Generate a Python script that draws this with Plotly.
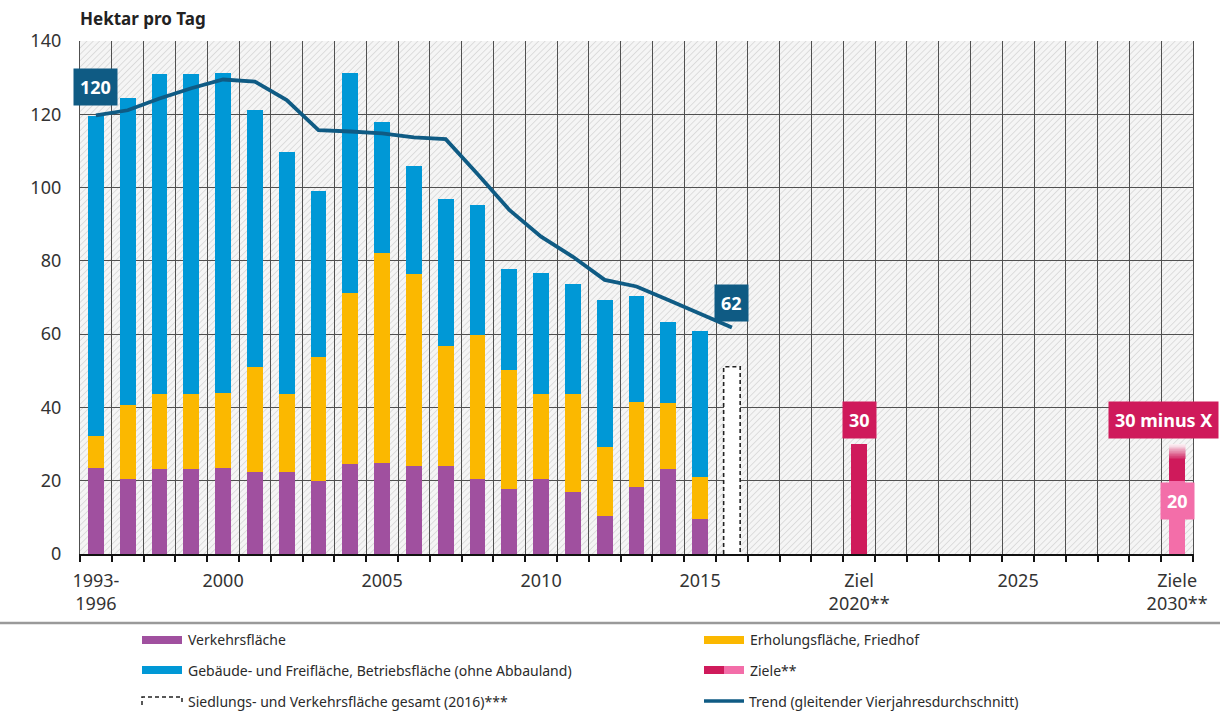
import base64
import plotly.graph_objects as go

# ---------------- data ----------------
categories = ["1993-1996"] + [str(y) for y in range(1997, 2016)]
cat_years = [1996] + list(range(1997, 2016))          # position key (1993-96 sits at 1996 slot)
verkehr = [23.4, 20.5, 23.1, 23.1, 23.4, 22.3, 22.3, 20.0, 24.5, 24.9,
           24.0, 24.0, 20.4, 17.7, 20.4, 16.8, 10.5, 18.2, 23.2, 9.5]
erholung = [8.8, 20.3, 20.7, 20.7, 20.6, 28.8, 21.3, 33.8, 46.6, 57.3,
            52.3, 32.7, 39.5, 32.5, 23.2, 27.0, 18.8, 23.3, 17.9, 11.6]
gebaeude = [87.4, 83.7, 87.1, 87.1, 87.4, 70.2, 66.1, 45.2, 60.3, 35.8,
            29.6, 40.1, 35.3, 27.7, 33.1, 29.8, 40.0, 29.0, 22.1, 39.8]
trend_years = [1996] + list(range(1997, 2017))
trend = [119.7, 121.1, 124.3, 127.1, 129.5, 128.9, 123.9, 115.7, 115.3, 114.8,
         113.7, 113.2, 103.7, 93.9, 86.6, 81.1, 74.8, 73.0, 69.3, 65.5, 61.8]
gesamt_year, gesamt_2016 = 2016, 51.1
ziel_2020_year, ziel_2020 = 2020, 30
ziel_2030_year, ziel_2030_low, ziel_2030_high = 2030, 20, 30
tick_years = [1996, 2000, 2005, 2010, 2015, 2020, 2025, 2030]
tick_labels = ["1993-<br>1996", "2000", "2005", "2010", "2015",
               "Ziel<br>2020**", "2025", "Ziele<br>2030**"]

BASE = 1996
def pos(y):
    return y - BASE

# ---------------- style ----------------
C_PURPLE = "#a0509f"
C_YELLOW = "#fbb800"
C_BLUE = "#0098d6"
C_TREND = "#0f5b84"
C_DPINK = "#cf1a5b"
C_LPINK = "#f36ea9"
FONT = "Noto Sans"
TXT = "#333333"

W, H = 1220, 711
ML, MR, MT, MB = 80, 27, 41, 157
PW, PH = W - ML - MR, H - MT - MB

def px(xp):
    return (xp - ML) / PW

def py(yp):
    return (H - MB - yp) / PH

xs = [pos(y) for y in cat_years]
BW = 0.5

fig = go.Figure()
fig.add_trace(go.Bar(x=xs, y=verkehr, width=BW, marker=dict(color=C_PURPLE, line_width=0), name="Verkehrsfläche"))
fig.add_trace(go.Bar(x=xs, y=erholung, width=BW, marker=dict(color=C_YELLOW, line_width=0), name="Erholungsfläche, Friedhof"))
fig.add_trace(go.Bar(x=xs, y=gebaeude, width=BW, marker=dict(color=C_BLUE, line_width=0), name="Gebäude- und Freifläche"))

# 2016 total (white bar with dashed outline)
gx = pos(gesamt_year)
gw = 0.52
fig.add_trace(go.Bar(x=[gx], y=[gesamt_2016], width=gw, marker=dict(color="white", line_width=0)))
fig.add_trace(go.Scatter(x=[gx - gw / 2, gx - gw / 2, gx + gw / 2, gx + gw / 2],
                         y=[0, gesamt_2016, gesamt_2016, 0], mode="lines",
                         line=dict(color="#222222", width=1.6, dash="4px,3px")))

# targets
fig.add_trace(go.Bar(x=[pos(ziel_2020_year)], y=[ziel_2020], width=BW, marker=dict(color=C_DPINK, line_width=0)))
z30 = pos(ziel_2030_year)
fig.add_trace(go.Bar(x=[z30], y=[ziel_2030_low], width=BW, marker=dict(color=C_LPINK, line_width=0)))
solid_part = (ziel_2030_high - ziel_2030_low) * 0.6
fig.add_trace(go.Bar(x=[z30], y=[solid_part], width=BW, marker=dict(color=C_DPINK, line_width=0)))
nfade = 12
fade_h = (ziel_2030_high - ziel_2030_low - solid_part) / nfade
for i in range(nfade):
    a = 1 - (i + 1) / (nfade + 1)
    # blend toward white instead of transparency to avoid seams
    r0, g0, b0 = 0xcf, 0x1a, 0x5b
    col = f"rgb({int(r0 * a + 255 * (1 - a))},{int(g0 * a + 255 * (1 - a))},{int(b0 * a + 255 * (1 - a))})"
    fig.add_trace(go.Bar(x=[z30], y=[fade_h], width=BW,
                         marker=dict(color=col, line=dict(color=col, width=0.5))))

# trend
fig.add_trace(go.Scatter(x=[pos(y) for y in trend_years], y=trend, mode="lines",
                         line=dict(color=C_TREND, width=3.8)))

# hatch background image
svg = (f"<svg xmlns='http://www.w3.org/2000/svg' width='{PW}' height='{PH}' viewBox='0 0 {PW} {PH}' preserveAspectRatio='none'>"
       "<defs><pattern id='h' width='4.5' height='4.5' patternUnits='userSpaceOnUse' patternTransform='rotate(45)'>"
       "<rect width='4.5' height='4.5' fill='#f5f5f5'/>"
       "<line x1='0' y1='0' x2='0' y2='4.5' stroke='#d9d9d9' stroke-width='1.7'/></pattern></defs>"
       "<rect width='100%' height='100%' fill='url(#h)'/></svg>")
src = "data:image/svg+xml;base64," + base64.b64encode(svg.encode()).decode()

annotations = []
def box(x, y, text, bg, xref="x", xanchor="center"):
    annotations.append(dict(x=x, y=y, xref=xref, yref="y", text=text, showarrow=False,
                            bgcolor=bg, borderpad=6, xanchor=xanchor,
                            font=dict(family=FONT, size=18, color="white", weight="bold")))

box(pos(trend_years[0]), trend[0] + 7.8, f"{round(trend[0])}", C_TREND)
box(pos(trend_years[-1]), trend[-1] + 6.8, f"{round(trend[-1])}", C_TREND)
box(pos(ziel_2020_year), ziel_2020 + 6.6, f"{ziel_2020}", C_DPINK)
box(px(W - 1), ziel_2030_high + 6.6, f"{ziel_2030_high} minus X", C_DPINK, xref="paper", xanchor="right")
box(z30, ziel_2030_low - 5.5, f"{ziel_2030_low}", C_LPINK)

annotations.append(dict(x=px(78), y=py(18), xref="paper", yref="paper", text="<b>Hektar pro Tag</b>",
                        showarrow=False, xanchor="left", yanchor="middle",
                        font=dict(family=FONT, size=17, color="#222222")))

shapes = []
# separator line above legend
shapes.append(dict(type="line", xref="paper", yref="paper", x0=px(0), x1=px(W), y0=py(623), y1=py(623),
                   line=dict(color="#9a9a9a", width=2.5)))

legend_rows = [640, 670, 701]
LX1, LX2 = 142, 704
def leg_text(x, y, t):
    annotations.append(dict(x=px(x), y=py(y), xref="paper", yref="paper", text=t, showarrow=False,
                            xanchor="left", yanchor="middle",
                            font=dict(family=FONT, size=14, color="#2a2a2a")))

def leg_rect(x0, x1, y, color):
    shapes.append(dict(type="rect", xref="paper", yref="paper", x0=px(x0), x1=px(x1),
                       y0=py(y - 4), y1=py(y + 4), fillcolor=color, line_width=0))

leg_rect(LX1, LX1 + 40, legend_rows[0], C_PURPLE)
leg_text(LX1 + 44, legend_rows[0], "Verkehrsfläche")
leg_rect(LX1, LX1 + 40, legend_rows[1], C_BLUE)
leg_text(LX1 + 44, legend_rows[1], "Gebäude- und Freifläche, Betriebsfläche (ohne Abbauland)")
shapes.append(dict(type="path", xref="paper", yref="paper",
                   path=f"M {px(LX1)},{py(legend_rows[2] + 4)} L {px(LX1)},{py(legend_rows[2] - 4)} "
                        f"L {px(LX1 + 40)},{py(legend_rows[2] - 4)} L {px(LX1 + 40)},{py(legend_rows[2] + 4)}",
                   line=dict(color="#222222", width=1.5, dash="4px,3px")))
leg_text(LX1 + 44, legend_rows[2], "Siedlungs- und Verkehrsfläche gesamt (2016)***")

leg_rect(LX2, LX2 + 40, legend_rows[0], C_YELLOW)
leg_text(LX2 + 44, legend_rows[0], "Erholungsfläche, Friedhof")
leg_rect(LX2, LX2 + 20, legend_rows[1], C_DPINK)
leg_rect(LX2 + 20, LX2 + 40, legend_rows[1], C_LPINK)
leg_text(LX2 + 44, legend_rows[1], "Ziele**")
shapes.append(dict(type="line", xref="paper", yref="paper", x0=px(LX2), x1=px(LX2 + 40),
                   y0=py(legend_rows[2]), y1=py(legend_rows[2]), line=dict(color=C_TREND, width=3.5)))
leg_text(LX2 + 43, legend_rows[2], "Trend (gleitender Vierjahresdurchschnitt)")

x_lo, x_hi = pos(1996) - 0.5, pos(2030) + 0.5
boundaries = [x_lo + i for i in range(int(x_hi - x_lo) + 1)]

fig.update_layout(
    width=W, height=H,
    margin=dict(l=ML, r=MR, t=MT, b=MB),
    barmode="stack",
    showlegend=False,
    hovermode=False,
    paper_bgcolor="white",
    plot_bgcolor="white",
    font=dict(family=FONT, color=TXT),
    images=[dict(source=src, xref="paper", yref="paper", x=0, y=1, sizex=1, sizey=1,
                 sizing="stretch", layer="below", xanchor="left", yanchor="top")],
    annotations=annotations,
    shapes=shapes,
    xaxis=dict(range=[x_lo, x_hi], tickmode="array", tickvals=[pos(y) for y in tick_years],
               ticktext=tick_labels, ticks="", showgrid=False, zeroline=False,
               showline=True, linecolor="#111111", linewidth=2, ticklabelstandoff=9,
               tickfont=dict(family=FONT, size=18, color=TXT),
               minor=dict(tickmode="array", tickvals=boundaries, ticks="outside", ticklen=6,
                          tickwidth=2, tickcolor="#111111", showgrid=True,
                          gridcolor="#505050", gridwidth=1.3)),
    yaxis=dict(range=[0, 140], tickmode="array", tickvals=list(range(0, 141, 20)),
               showgrid=True, gridcolor="#505050", gridwidth=1.3, zeroline=False,
               showline=True, mirror=True, linecolor="#505050", linewidth=1.3,
               ticks="outside", ticklen=14, tickcolor="rgba(0,0,0,0)",
               tickfont=dict(family=FONT, size=18, color=TXT)),
)

fig.write_html("out.html", config={"displayModeBar": False},
               post_script="document.body.style.margin='0';document.body.style.overflow='hidden';")
